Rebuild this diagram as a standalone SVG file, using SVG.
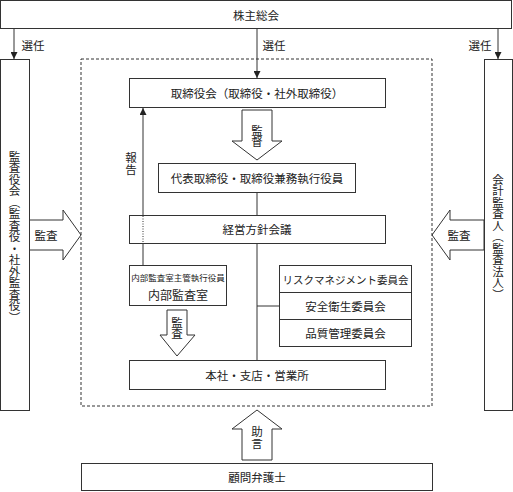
<svg xmlns="http://www.w3.org/2000/svg" width="513" height="492" viewBox="0 0 513 492">
<defs>
<style>
.box{fill:#fff;stroke:#333;stroke-width:1}
.ln{fill:none;stroke:#333;stroke-width:1}
.blk{fill:#fff;stroke:#333;stroke-width:1;stroke-linejoin:miter}
text{font-family:"Noto Sans CJK JP","Noto Sans CJK SC",sans-serif;font-size:11.5px;fill:#222}
.c{text-anchor:middle;dominant-baseline:central}
.v{writing-mode:vertical-rl;text-anchor:middle}
</style>
<marker id="ah" viewBox="0 0 10 10" refX="10" refY="5" markerWidth="7" markerHeight="7" markerUnits="userSpaceOnUse" orient="auto"><path d="M0,0 L10,5 L0,10 z" fill="#222"/></marker>
</defs>
<rect width="513" height="492" fill="#fff"/>
<g id="connectors">
<line class="ln" x1="14" y1="28" x2="14" y2="59" marker-end="url(#ah)"/>
<line class="ln" x1="257" y1="28" x2="257" y2="78" marker-end="url(#ah)"/>
<line class="ln" x1="498" y1="28" x2="498" y2="59" marker-end="url(#ah)"/>
<text x="33" y="45" class="c">選任</text>
<text x="274" y="45" class="c">選任</text>
<text x="480" y="45" class="c">選任</text>
<line class="ln" x1="143" y1="265" x2="143" y2="108" marker-end="url(#ah)"/>
<text x="131" y="163.5" class="v">報告</text>
<line class="ln" x1="257" y1="192" x2="257" y2="215"/>
<line class="ln" x1="257" y1="243" x2="257" y2="360"/>
<line class="ln" x1="257" y1="306" x2="279" y2="306"/>
<path class="blk" d="M242,110 H272 V141 H282 L257,160 L232,141 H242 Z"/>
<text x="257" y="136" class="v">監督</text>
<path class="blk" d="M167,310 H187 V335 H195 L177,356 L160,335 H167 Z"/>
<text x="177" y="328" class="v">監査</text>
<path class="blk" d="M29,220 H63 V210 L81,235 L63,260 V250 H29 Z"/>
<text x="46" y="235" class="c">監査</text>
<path class="blk" d="M484,220 H450 V210 L432,235 L450,260 V250 H484 Z"/>
<text x="459" y="235" class="c">監査</text>
<path class="blk" d="M242,460 H272 V429 H282 L257,410 L232,429 H242 Z"/>
<text x="257" y="437.5" class="v">助言</text>
</g>
<g id="dashed-frame"><rect x="81" y="59" width="351" height="347" fill="none" stroke="#333" stroke-width="1" stroke-dasharray="3,2"/></g>
<g id="n-shareholders"><rect class="box" x="0.5" y="0.5" width="511" height="28"/><text x="256" y="15" class="c">株主総会</text></g>
<g id="n-auditors"><rect class="box" x="0.5" y="59.5" width="29" height="351"/><text x="14.5" y="237" class="v">監査役会（監査役・社外監査役）</text></g>
<g id="n-accounting"><rect class="box" x="484.5" y="59.5" width="28" height="351"/><text x="498" y="237" class="v">会計監査人（監査法人）</text></g>
<g id="n-board"><rect class="box" x="129.5" y="78.5" width="256" height="29"/><text x="257" y="93" class="c">取締役会（取締役・社外取締役）</text></g>
<g id="n-rep"><rect class="box" x="158.5" y="163.5" width="197" height="29"/><text x="257" y="178" class="c">代表取締役・取締役兼務執行役員</text></g>
<g id="n-policy"><rect class="box" x="129.5" y="215.5" width="256" height="28"/><line x1="143" y1="216" x2="143" y2="243" stroke="#333" stroke-width="1" stroke-dasharray="1,1.5"/><text x="257" y="229" class="c">経営方針会議</text></g>
<g id="n-internal"><rect class="box" x="129.5" y="265.5" width="97" height="40"/><text x="178" y="277" class="c" style="font-size:8.5px">内部監査室主管執行役員</text><text x="178" y="294" class="c" style="font-size:12px">内部監査室</text></g>
<g id="n-committees"><rect class="box" x="279.5" y="265.5" width="132" height="81"/><line class="ln" x1="279.5" y1="292.5" x2="411.5" y2="292.5"/><line class="ln" x1="279.5" y1="319.5" x2="411.5" y2="319.5"/><text x="345.5" y="279" class="c" style="font-size:10.5px">リスクマネジメント委員会</text><text x="345.5" y="306" class="c">安全衛生委員会</text><text x="345.5" y="333" class="c">品質管理委員会</text></g>
<g id="n-branch"><rect class="box" x="129.5" y="360.5" width="256" height="29"/><text x="257" y="375" class="c">本社・支店・営業所</text></g>
<g id="n-lawyer"><rect class="box" x="81.5" y="463.5" width="351" height="27"/><text x="257" y="477" class="c">顧問弁護士</text></g>
</svg>
